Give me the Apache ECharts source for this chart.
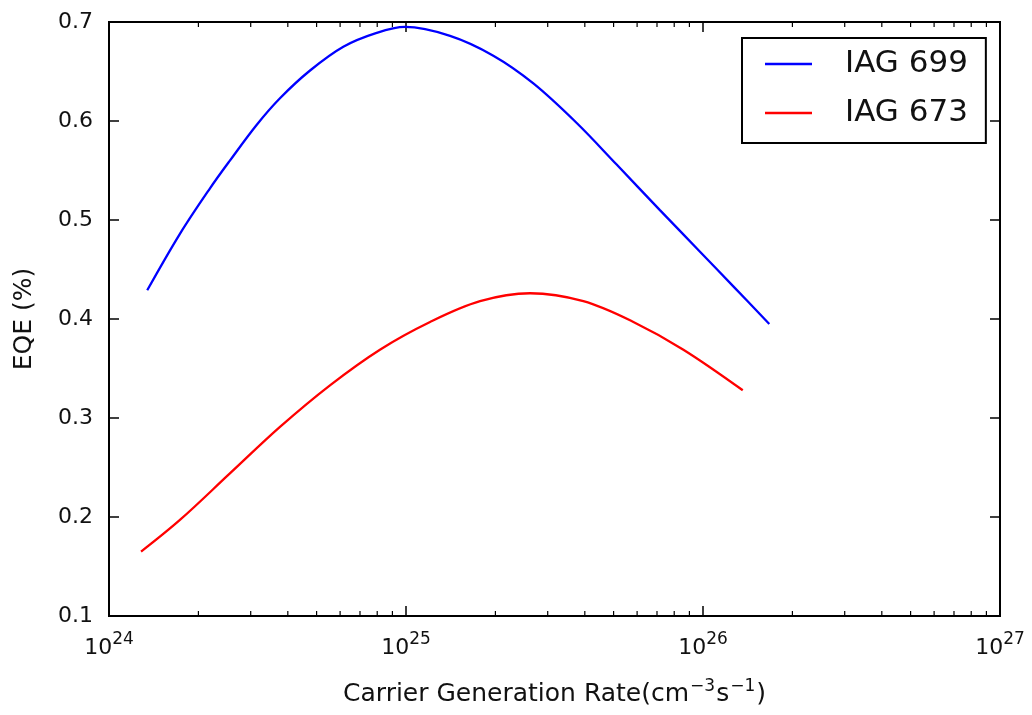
<!DOCTYPE html>
<html>
<head>
<meta charset="utf-8">
<title>EQE vs Carrier Generation Rate</title>
<script src="https://cdn.jsdelivr.net/npm/echarts@6/dist/echarts.min.js"></script>
<style>
  html, body { margin: 0; padding: 0; background: #fff; }
  #chart { width: 1032px; height: 715px; }
</style>
</head>
<body>
<div id="chart"></div>
<script>
// Carrier generation rate (cm^-3 s^-1) and EQE for each sample
const iag699Rate = [1.345e24, 1.733e24, 2.188e24, 2.553e24, 3.140e24, 3.764e24, 4.753e24, 6.152e24, 7.966e24,
  9.93e24, 1.407e25, 1.968e25, 2.684e25, 3.757e25, 5.12e25, 7.16e25, 9.77e25, 1.265e26, 1.672e26];
const iag699Eqe = [0.429, 0.486, 0.532, 0.560, 0.596, 0.623, 0.651, 0.675, 0.689,
  0.695, 0.686, 0.666, 0.638, 0.598, 0.556, 0.510, 0.468, 0.433, 0.395];

const iag673Rate = [1.282e24, 1.733e24, 2.553e24, 3.764e24, 5.546e24, 8.17e24, 1.205e25,
  1.775e25, 2.617e25, 3.956e25, 5.83e25, 8.59e25, 1.361e26];
const iag673Eqe = [0.165, 0.197, 0.244, 0.291, 0.333, 0.369, 0.397,
  0.418, 0.426, 0.418, 0.397, 0.369, 0.328];

const seriesNames = ['IAG 699', 'IAG 673'];
const yTicks = [0.1, 0.2, 0.3, 0.4, 0.5, 0.6, 0.7];
const xDecades = [24, 25, 26, 27];

const font = 'DejaVu Sans';
const xMin = Math.pow(10, xDecades[0]);
const xMax = Math.pow(10, xDecades[xDecades.length - 1]);
const yMin = yTicks[0];
const yMax = yTicks[yTicks.length - 1];

// minor log ticks: 2..9 within each decade
const minorTicks = [];
for (let i = 0; i < xDecades.length - 1; i++) {
  for (let k = 2; k <= 9; k++) minorTicks.push([k * Math.pow(10, xDecades[i]), yMin]);
}

const pair = (xs, ys) => xs.map((x, i) => [x, ys[i]]);

const chart = echarts.init(document.getElementById('chart'), null, { renderer: 'canvas' });

const supLabel = v => '{b|10}{s|' + Math.round(Math.log10(v)) + '}';

const option = {
  backgroundColor: '#fff',
  animation: false,
  textStyle: { fontFamily: font, color: '#000' },
  grid: {
    left: 109, right: 32, top: 22, bottom: 99,
    show: true, borderColor: '#000', borderWidth: 2, backgroundColor: '#fff'
  },
  legend: {
    data: seriesNames,
    orient: 'vertical',
    left: 742, top: 38,
    padding: [8, 18, 12, 23],
    itemGap: 13,
    icon: 'rect',
    itemWidth: 47, itemHeight: 2.5,
    borderColor: '#000', borderWidth: 2,
    backgroundColor: '#fff',
    textStyle: { fontFamily: font, fontSize: 31, color: '#111', lineHeight: 36, padding: [0, 0, 0, 28] }
  },
  xAxis: [
    {
      type: 'log', logBase: 10, min: xMin, max: xMax, interval: 1,
      name: '{n|Carrier Generation Rate(cm}{s|\u22123}{n|s}{s|\u22121}{n|)}',
      nameLocation: 'middle', nameGap: 62,
      nameTextStyle: {
        rich: {
          n: { fontFamily: font, fontSize: 25, color: '#111', verticalAlign: 'bottom' },
          s: { fontFamily: font, fontSize: 17, color: '#111', verticalAlign: 'bottom', padding: [0, 1, 12, 1] }
        }
      },
      axisLine: { show: false },
      axisTick: { show: true, inside: true, length: 10, lineStyle: { color: '#000', width: 1.5 } },
      axisLabel: {
        margin: 15,
        formatter: supLabel,
        rich: {
          b: { fontFamily: font, fontSize: 22, color: '#111', verticalAlign: 'bottom' },
          s: { fontFamily: font, fontSize: 17, color: '#111', verticalAlign: 'bottom', padding: [0, 0, 11, 0] }
        }
      },
      splitLine: { show: false }
    },
    {
      type: 'log', logBase: 10, min: xMin, max: xMax, interval: 1, position: 'top',
      axisLine: { show: false },
      axisTick: { show: true, inside: true, length: 10, lineStyle: { color: '#000', width: 1.5 } },
      axisLabel: { show: false },
      splitLine: { show: false }
    }
  ],
  yAxis: [
    {
      type: 'value', min: yMin, max: yMax, interval: 0.1,
      name: 'EQE (%)', nameLocation: 'middle', nameGap: 72,
      nameTextStyle: { fontFamily: font, fontSize: 25, color: '#111' },
      axisLine: { show: false },
      axisTick: { show: true, inside: true, length: 10, lineStyle: { color: '#000', width: 1.5 } },
      axisLabel: { fontFamily: font, fontSize: 22, color: '#111', margin: 16,
        formatter: v => v.toFixed(1) },
      splitLine: { show: false }
    },
    {
      type: 'value', min: yMin, max: yMax, interval: 0.1, position: 'right',
      axisLine: { show: false },
      axisTick: { show: true, inside: true, length: 10, lineStyle: { color: '#000', width: 1.5 } },
      axisLabel: { show: false },
      splitLine: { show: false }
    }
  ],
  series: [
    {
      name: seriesNames[0], type: 'line', data: pair(iag699Rate, iag699Eqe),
      smooth: 0.35, symbol: 'none', color: '#0000ff',
      lineStyle: { width: 2.3, color: '#0000ff' }, z: 3
    },
    {
      name: seriesNames[1], type: 'line', data: pair(iag673Rate, iag673Eqe),
      smooth: 0.35, symbol: 'none', color: '#ff0000',
      lineStyle: { width: 2.3, color: '#ff0000' }, z: 3
    },
    {
      // minor ticks on the bottom and top edges
      name: 'minor', type: 'custom', data: minorTicks, silent: true, z: 4,
      encode: { x: 0, y: 1 },
      renderItem: (params, api) => {
        const v = api.value(0);
        const b = api.coord([v, yMin]);
        const t = api.coord([v, yMax]);
        const style = { stroke: '#000', lineWidth: 1.2 };
        return {
          type: 'group',
          children: [
            { type: 'line', shape: { x1: b[0], y1: b[1], x2: b[0], y2: b[1] - 5 }, style },
            { type: 'line', shape: { x1: t[0], y1: t[1], x2: t[0], y2: t[1] + 5 }, style }
          ]
        };
      }
    }
  ]
};

chart.setOption(option);
</script>
</body>
</html>
